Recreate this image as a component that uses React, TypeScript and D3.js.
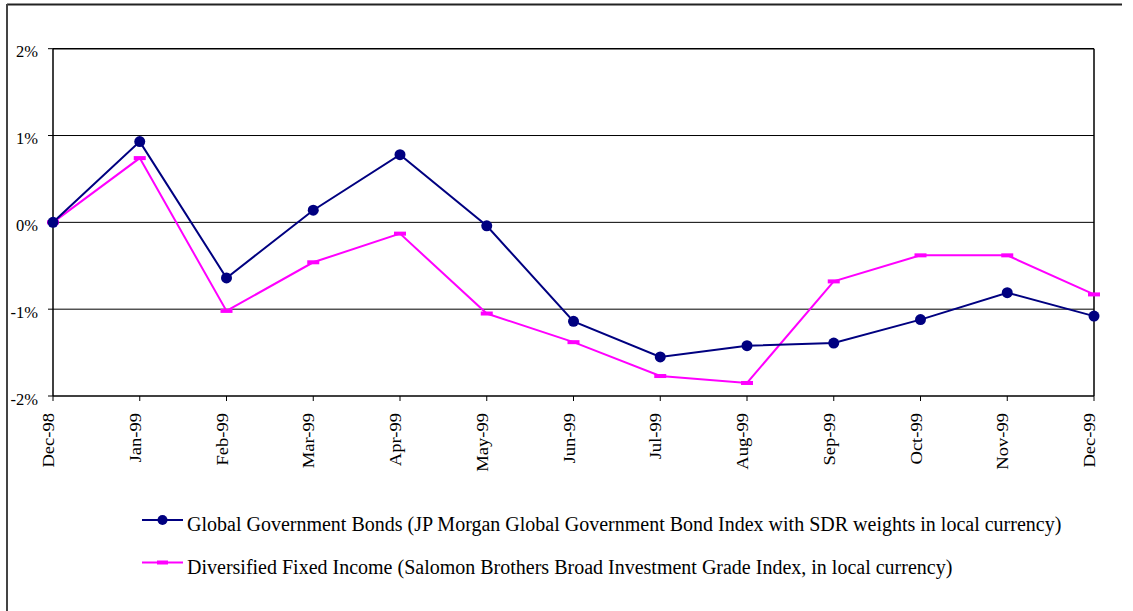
import React from "react";
import * as d3 from "d3";

// Monthly cumulative returns, Dec-98 to Dec-99 (in %)
const months = [
  "Dec-98", "Jan-99", "Feb-99", "Mar-99", "Apr-99", "May-99", "Jun-99",
  "Jul-99", "Aug-99", "Sep-99", "Oct-99", "Nov-99", "Dec-99",
];
const globalGovBonds = [0, 0.93, -0.64, 0.14, 0.78, -0.04, -1.14, -1.55, -1.42, -1.39, -1.12, -0.81, -1.08];
const diversifiedFixed = [0, 0.74, -1.02, -0.46, -0.13, -1.05, -1.38, -1.77, -1.85, -0.68, -0.38, -0.38, -0.83];
const yTicks = [2, 1, 0, -1, -2];
const seriesNames = [
  "Global Government Bonds (JP Morgan Global Government Bond Index with SDR weights in local currency)",
  "Diversified Fixed Income (Salomon Brothers Broad Investment Grade Index, in local currency)",
];

const W = 1133;
const H = 611;
const plot = { left: 53, right: 1094, top: 48.7, bottom: 396 };
const NAVY = "#000080";
const MAGENTA = "#FF00FF";
const FONT = "Liberation Serif";
const textStyle = { fontFamily: FONT };

export default function App() {
  const x = d3
    .scalePoint<string>()
    .domain(months)
    .range([plot.left, plot.right]);
  const y = d3.scaleLinear().domain([-2, 2]).range([plot.bottom, plot.top]);

  const line = d3
    .line<number>()
    .x((_, i) => x(months[i]) as number)
    .y((d) => y(d));

  return (
    <svg
      width={W}
      height={H}
      style={{ position: "absolute", left: 0, top: 0, background: "#fff" }}
    >
      {/* outer frame: top and left edges */}
      <line x1={7} y1={4.5} x2={1122} y2={4.5} stroke="#222" strokeWidth={2} />
      <line x1={7} y1={4} x2={7} y2={H} stroke="#444" strokeWidth={2} />

      {/* horizontal gridlines */}
      {yTicks.map((t) => (
        <line
          key={"g" + t}
          x1={plot.left}
          x2={plot.right}
          y1={y(t)}
          y2={y(t)}
          stroke="#000"
          strokeWidth={t === 2 || t === -2 ? 1.5 : 1}
        />
      ))}
      {/* plot frame verticals */}
      <line x1={plot.left} x2={plot.left} y1={plot.top} y2={plot.bottom} stroke="#000" strokeWidth={1.5} />
      <line x1={plot.right} x2={plot.right} y1={plot.top} y2={plot.bottom} stroke="#000" strokeWidth={1.5} />

      {/* y ticks and labels */}
      {yTicks.map((t) => (
        <g key={"y" + t}>
          <line x1={plot.left - 5} x2={plot.left} y1={y(t)} y2={y(t)} stroke="#000" strokeWidth={1} />
          <text
            x={38}
            y={y(t) + 8.5}
            textAnchor="end"
            fontSize={16.5}
            fill="#000"
            style={textStyle}
          >
            {`${t}%`}
          </text>
        </g>
      ))}

      {/* x ticks and rotated labels */}
      {months.map((m) => {
        const px = x(m) as number;
        return (
          <g key={m}>
            <line x1={px} x2={px} y1={plot.bottom} y2={plot.bottom + 5} stroke="#000" strokeWidth={1} />
            <text
              transform={`translate(${px + 1},${plot.bottom + 17}) rotate(-90) scale(1.16,1)`}
              textAnchor="end"
              fontSize={16}
              fill="#000"
              style={textStyle}
            >
              {m}
            </text>
          </g>
        );
      })}

      {/* Diversified Fixed Income series */}
      <path d={line(diversifiedFixed) ?? ""} fill="none" stroke={MAGENTA} strokeWidth={2} />
      {diversifiedFixed.map((v, i) => (
        <rect
          key={"m" + i}
          x={(x(months[i]) as number) - 6}
          y={y(v) - 2}
          width={12}
          height={4}
          fill={MAGENTA}
        />
      ))}

      {/* Global Government Bonds series */}
      <path d={line(globalGovBonds) ?? ""} fill="none" stroke={NAVY} strokeWidth={2} />
      {globalGovBonds.map((v, i) => (
        <circle key={"n" + i} cx={x(months[i]) as number} cy={y(v)} r={5.5} fill={NAVY} />
      ))}

      {/* legend */}
      <g>
        <line x1={142} x2={183} y1={520} y2={520} stroke={NAVY} strokeWidth={2} />
        <circle cx={162.5} cy={520} r={5} fill={NAVY} />
        <text x={187} y={531} fontSize={20} fill="#000" style={textStyle}>
          {seriesNames[0]}
        </text>
        <line x1={142} x2={183} y1={562.5} y2={562.5} stroke={MAGENTA} strokeWidth={2} />
        <rect x={157} y={560.5} width={11} height={4} fill={MAGENTA} />
        <text x={187} y={574} fontSize={20} fill="#000" style={textStyle}>
          {seriesNames[1]}
        </text>
      </g>
    </svg>
  );
}
